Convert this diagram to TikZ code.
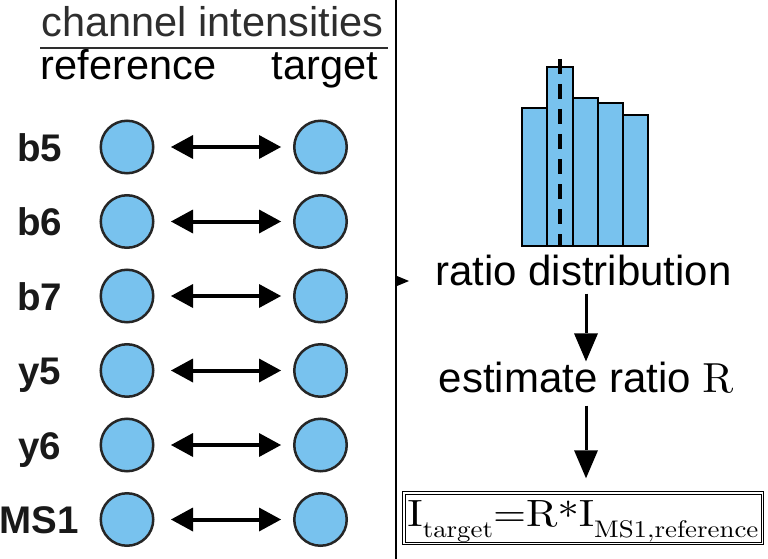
\RequirePackage{fix-cm}
\documentclass[tikz,border=0pt]{standalone}
\usepackage[no-math]{fontspec}
\usepackage{graphicx}
\newfontfamily\lab{Liberation Sans}
\usetikzlibrary{arrows.meta}
\DeclareFontFamily{OT1}{cmrten}{}
\DeclareFontShape{OT1}{cmrten}{m}{n}{<-> cmr10}{}
\DeclareFontFamily{OMS}{cmsyten}{\skewchar\font48}
\DeclareFontShape{OMS}{cmsyten}{m}{n}{<-> cmsy10}{}
\DeclareSymbolFont{operators}{OT1}{cmrten}{m}{n}
\DeclareSymbolFont{symbols}{OMS}{cmsyten}{m}{n}
\newcommand\eqsub[1]{\raisebox{-11.5pt}{\fontsize{24}{28}\selectfont #1}}
\definecolor{dotblue}{HTML}{78C2EE}
\definecolor{inkgray}{HTML}{2E2E2E}
\begin{document}
\begin{tikzpicture}[x=1pt,y=-1pt,
  chan/.style={circle, draw=black!85, line width=2.5pt, fill=dotblue, minimum size=52.5pt, inner sep=0pt},
  pair/.style={{Triangle[length=22pt,width=24pt,line width=0pt]}-{Triangle[length=22pt,width=24pt,line width=0pt]}, line width=4pt, shorten <=16.5pt, shorten >=12pt},
  lbl/.style={anchor=base, inner sep=0pt, text=black!90, font=\lab\bfseries\fontsize{38.5}{46}\selectfont},
  hdr/.style={anchor=base, inner sep=0pt, font=\lab\fontsize{41.5}{50}\selectfont},
  txt/.style={anchor=base, inner sep=0pt, font=\lab\fontsize{42}{50}\selectfont},
  flow/.style={-{Triangle[length=28pt,width=24pt,line width=0pt]}, line width=3pt},
  bar/.style={draw=black, fill=dotblue, line width=2.5pt},
  eqbox/.style={draw, double, line width=1pt, double distance=1.5pt, minimum width=358.5pt, minimum height=50.5pt, inner sep=0pt, text height=32.2pt, text depth=16.2pt, anchor=base}
]
\useasboundingbox (0,0) rectangle (768,559);

% divider
\coordinate (dtop) at (396,0);
\coordinate (dbot) at (396,559);
\draw[line width=2.2pt] (dtop) -- (dbot);

% header
\node[hdr, text=inkgray] (hdr) at (212.5,37) {channel intensities};
\coordinate (ul1) at (40,48);
\coordinate (ul2) at (388,48);
\draw[line width=2pt, inkgray] (ul1) -- (ul2);
\node[hdr] (refhdr) at (128.5,80) {reference};
\node[hdr] (tgthdr) at (325,80) {target};

% rows
\foreach \i/\y/\t in {1/147/b5, 2/221.5/b6, 3/296/b7, 4/370.5/y5, 5/445/y6, 6/519.5/MS1}{
  \node[lbl] (lab\i) at (39.5,\y+14) {\t};
  \node[chan] (ref\i) at (127,\y) {};
  \node[chan] (tgt\i) at (320.5,\y) {};
  \draw[pair] (ref\i) -- (tgt\i);
}

% small arrow on divider
\coordinate (d1) at (396,281);
\coordinate (d2) at (409,281);
\draw[-{Triangle[length=12pt,width=10pt,line width=0pt]}, line width=0.5pt] (d1) -- (d2);

% histogram
\draw[bar] (522,246) rectangle (547,108);
\draw[bar] (547,246) rectangle (573,67);
\draw[bar] (573,246) rectangle (598,98);
\draw[bar] (598,246) rectangle (623,103);
\draw[bar] (623,246) rectangle (648,115);
\coordinate (m1) at (560,59);
\coordinate (m2) at (560,246);
\draw[line width=4.5pt, dash pattern=on 15pt off 10pt] (m1) -- (m2);

% flow on the right
\node[txt] (rd) at (583.5,285) {ratio distribution};
\node[txt] (est) at (586,392) {estimate ratio $\mathrm{R}$};
\node[eqbox] (eq) at (583,526) {\scalebox{1.12}[1]{\usefont{OT1}{cmrten}{m}{n}\fontsize{38}{44}\selectfont I\eqsub{target}=R\raisebox{-3.5pt}{*}I\eqsub{MS1,reference}}};
\draw[flow, shorten <=8pt] (rd.south -| 586,0) -- (est.north -| 586,0);
\draw[flow, shorten <=13pt, shorten >=14pt] (est.south -| 586,0) -- (eq.north -| 586,0);
\end{tikzpicture}
\end{document}
